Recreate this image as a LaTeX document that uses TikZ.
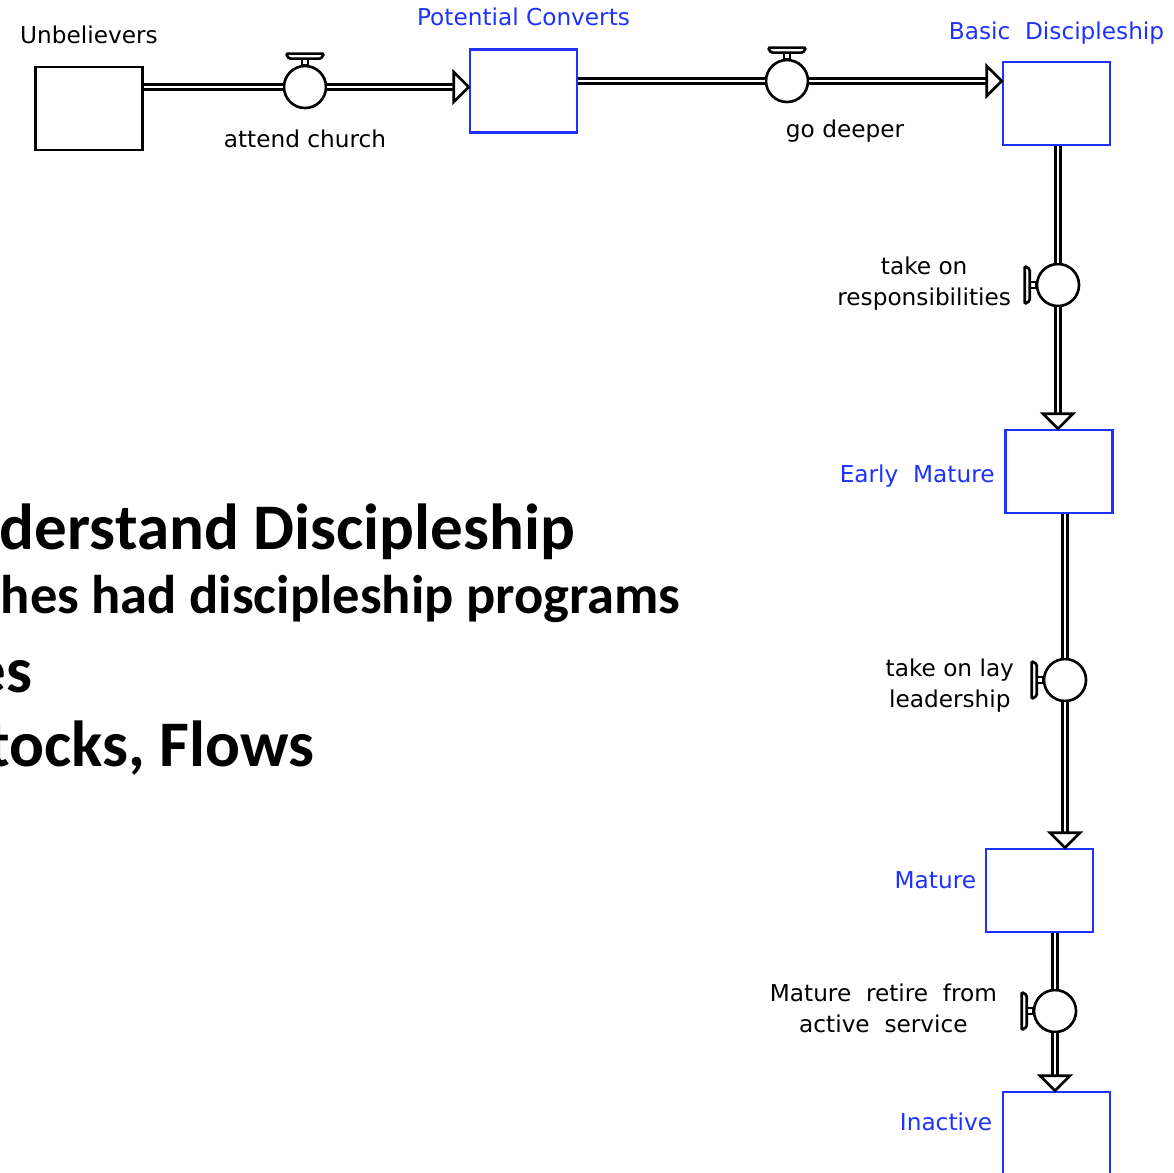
\documentclass[tikz,border=0pt]{standalone}
\usepackage{fontspec}
\setmainfont{DejaVu Sans}
\newfontfamily\slidefont{Carlito}
\usetikzlibrary{positioning}
\definecolor{stockblue}{RGB}{30,50,255}

\tikzset{
  stock/.style={draw=stockblue, line width=0.7pt, minimum width=1.07cm,
                minimum height=0.83cm, inner sep=0pt},
  pipe/.style={draw, double, double distance=0.025cm, line width=0.65pt},
  valve/.style={circle, draw, fill=white, line width=0.75pt,
                minimum size=0.42cm, inner sep=0pt},
  lbl/.style={font=\fontsize{6.6}{9}\selectfont, inner sep=0pt,
              text depth=0pt, align=center},
  stocklbl/.style={lbl, text=stockblue},
  headline/.style={font=\slidefont\bfseries\fontsize{18.5}{22}\selectfont,
                   inner sep=0pt, anchor=base east},
  flowhead/.pic={
    \draw[fill=white, line width=0.75pt, line join=miter]
      (0,0) -- (-15,-15) -- (-15,15) -- cycle;
  },
  handle/.pic={
    \draw[fill=white, line width=0.6pt] (-3,0) rectangle (3,-6);
    \draw[fill=white, line width=0.75pt, rounded corners=0.4pt]
      (-16,-6) -- (16,-6) -- (19,-11) -- (-19,-11) -- cycle;
  }
}

\begin{document}
\begin{tikzpicture}[x=0.01cm, y=-0.01cm]
  \useasboundingbox (0,0) rectangle (1174,1172);
  \clip (0,0) rectangle (1174,1172);

  % slide text, cut at the left edge
  \node[headline] (title) at (576,549) {derstand Discipleship};
  \node[headline, font=\slidefont\bfseries\fontsize{15.5}{19}\selectfont]
       (programs) at (681,613) {hes had discipleship programs};
  \node[headline] (es) at (33,692) {es};
  \node[headline] (stocks) at (315,766) {tocks, Flows};

  % stocks
  \node[stock, draw=black] (uv)  at (89,108.5)   {};
  \node[stock]             (pc)  at (523.5,91)   {};
  \node[stock]             (bd)  at (1056.5,103.5) {};
  \node[stock]             (em)  at (1059,471.5) {};
  \node[stock]             (mat) at (1039.5,890.5) {};
  \node[stock]             (ina) at (1056.5,1133.5) {};

  \node[stocklbl, text=black, above=0.22cm of uv] (uvname) {Unbelievers};
  \node[stocklbl, above=0.22cm of pc] (pcname) {Potential Converts};
  \node[stocklbl, above=0.21cm of bd] (bdname) {Basic\ \ Discipleship};
  \node[stocklbl, anchor=base east] (emname)
       at ([xshift=-0.09cm, yshift=-0.105cm]em.west) {Early\ \ Mature};
  \node[stocklbl, anchor=base east] (matname)
       at ([xshift=-0.08cm, yshift=0.025cm]mat.west) {Mature};
  \node[stocklbl, anchor=base east] (inaname)
       at ([xshift=-0.09cm, yshift=0.035cm]ina.west) {Inactive};

  % valves
  \node[valve] (attend) at (305,87)   {};
  \node[valve] (deeper) at (787,81)   {};
  \node[valve] (resp)   at (1058,285) {};
  \node[valve] (lay)    at (1065,680) {};
  \node[valve] (retire) at (1055,1011) {};

  \node[lbl, below=0.2cm of attend] (attendname) {attend church};
  \node[lbl, anchor=base] (deepername)
       at ([xshift=0.58cm, yshift=-0.56cm]deeper.center) {go deeper};
  \node[lbl, left=0.24cm of resp, yshift=0.04cm] (respname)
       {take on\\responsibilities};
  \node[lbl, left=0.28cm of lay, yshift=-0.03cm] (layname)
       {take on lay\\leadership};
  \node[lbl, left=0.35cm of retire, yshift=0.03cm] (retirename)
       {Mature\ \ retire\ \ from\\active\ \ service};

  % flows
  \draw[pipe] (uv.east |- attend) -- (attend.west);
  \draw[pipe, shorten >=0.15cm] (attend.east) -- (pc.west |- attend);
  \pic at (pc.west |- attend) {flowhead};

  \draw[pipe] (pc.east |- deeper) -- (deeper.west);
  \draw[pipe, shorten >=0.15cm] (deeper.east) -- (bd.west |- deeper);
  \pic at (bd.west |- deeper) {flowhead};

  \draw[pipe] (bd.south -| resp) -- (resp.north);
  \draw[pipe, shorten >=0.15cm] (resp.south) -- (em.north -| resp);
  \pic[rotate=-90] at (em.north -| resp) {flowhead};

  \draw[pipe] (em.south -| lay) -- (lay.north);
  \draw[pipe, shorten >=0.15cm] (lay.south) -- (mat.north -| lay);
  \pic[rotate=-90] at (mat.north -| lay) {flowhead};

  \draw[pipe] (mat.south -| retire) -- (retire.north);
  \draw[pipe, shorten >=0.15cm] (retire.south) -- (ina.north -| retire);
  \pic[rotate=-90] at (ina.north -| retire) {flowhead};

  % valve handles
  \pic at (attend.north) {handle};
  \pic at (deeper.north) {handle};
  \pic[rotate=90] at (resp.west) {handle};
  \pic[rotate=90] at (lay.west) {handle};
  \pic[rotate=90] at (retire.west) {handle};
\end{tikzpicture}
\end{document}
